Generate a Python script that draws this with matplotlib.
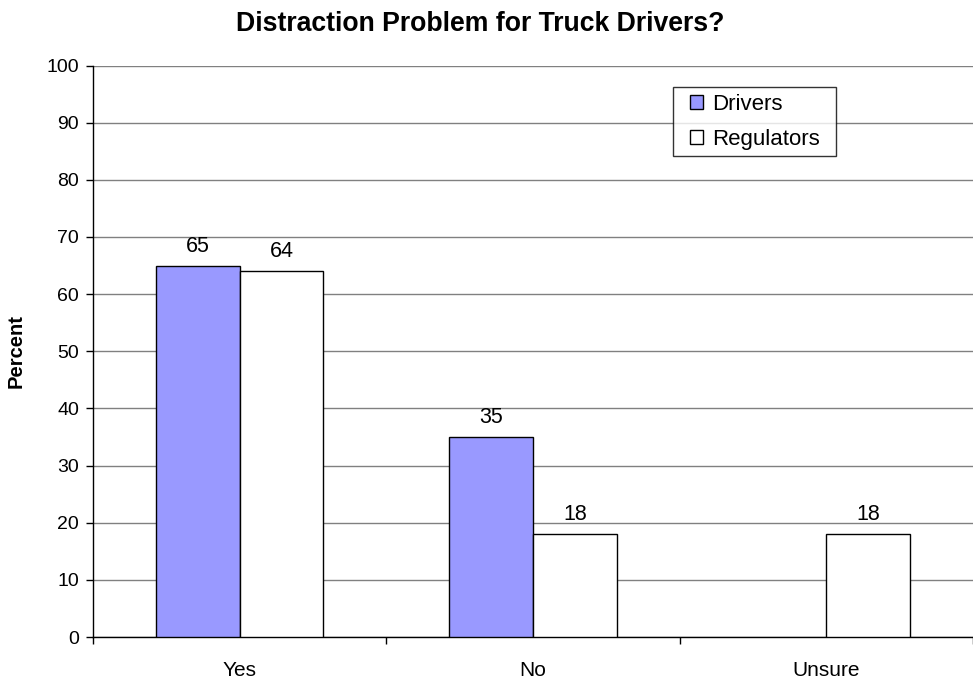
import numpy as np
import matplotlib.pyplot as plt
from matplotlib.patches import Rectangle
from matplotlib.legend_handler import HandlerPatch

plt.rcParams['font.family'] = ['Liberation Sans', 'DejaVu Sans']

# data
categories = ['Yes', 'No', 'Unsure']
drivers = [65, 35, 0]
regulators = [64, 18, 18]
series_names = ['Drivers', 'Regulators']

fig = plt.figure(figsize=(9.73, 6.85), dpi=100)
ax = fig.add_axes([93 / 973, 1 - 637 / 685, 880 / 973, (637 - 65.5) / 685])

x = np.arange(len(categories))
w = 1 / 3.5

b1 = ax.bar(x - w / 2, drivers, w, color='#9999FF', edgecolor='black', linewidth=1, label=series_names[0], zorder=3)
b2 = ax.bar(x + w / 2, regulators, w, color='white', edgecolor='black', linewidth=1, label=series_names[1], zorder=3)

for bars, vals in [(b1, drivers), (b2, regulators)]:
    for rect, v in zip(bars, vals):
        if v == 0:
            rect.set_visible(False)  # no bar drawn for empty values
            continue
        ax.annotate(str(v), (rect.get_x() + rect.get_width() / 2, v), xytext=(0, 10),
                    textcoords='offset points', ha='center', va='baseline', fontsize=15.5)

ax.set_xlim(-0.5, len(categories) - 0.5)
ax.set_ylim(0, 100)
ax.set_yticks(range(0, 101, 10))
ax.yaxis.grid(True, color='#808080', linewidth=1, zorder=0)
ax.set_axisbelow(True)

ax.set_xticks(x)
ax.set_xticklabels(categories, fontsize=15)
ax.set_xticks(np.arange(-0.5, len(categories)), minor=True)
ax.tick_params(axis='x', which='major', length=0, pad=17)
ax.tick_params(axis='x', which='minor', length=5, direction='out', width=1)
ax.tick_params(axis='y', length=5, direction='out', labelsize=14, width=1, pad=5)

for s in ['top', 'right']:
    ax.spines[s].set_visible(False)
ax.spines['left'].set_linewidth(1)
ax.spines['bottom'].set_linewidth(1)

ax.set_ylabel('Percent', fontsize=14.5, fontweight='bold')
ax.yaxis.set_label_coords(-0.077, 0.5)
fig.text(0.493, 1 - 31 / 685, 'Distraction Problem for Truck Drivers?', ha='center', va='baseline',
         fontsize=19.2, fontweight='bold')


# small square legend keys, sitting at the right end of the handle box
def square_key(legend, orig_handle, xdescent, ydescent, width, height, fontsize):
    s = 13 * 72 / fig.dpi
    return Rectangle((-xdescent + width - s, -ydescent + (height - s) / 2), s, s)


leg = ax.legend(loc='upper left', bbox_to_anchor=(683 / 973, 1 - 87 / 685), bbox_transform=fig.transFigure,
                fontsize=16, frameon=True, fancybox=False, edgecolor='black', handlelength=0.6,
                handleheight=0.6, handletextpad=0.4, borderpad=0.3, labelspacing=0.63, borderaxespad=0,
                handler_map={Rectangle: HandlerPatch(patch_func=square_key)})
frame = leg.get_frame()
frame.set_linewidth(1)
# wider side margins than top/bottom, like the original box
frame.set_boxstyle('square', pad=0.45)
frame.set_mutation_aspect(1e-3)

fig.savefig('out.png', dpi=100)
